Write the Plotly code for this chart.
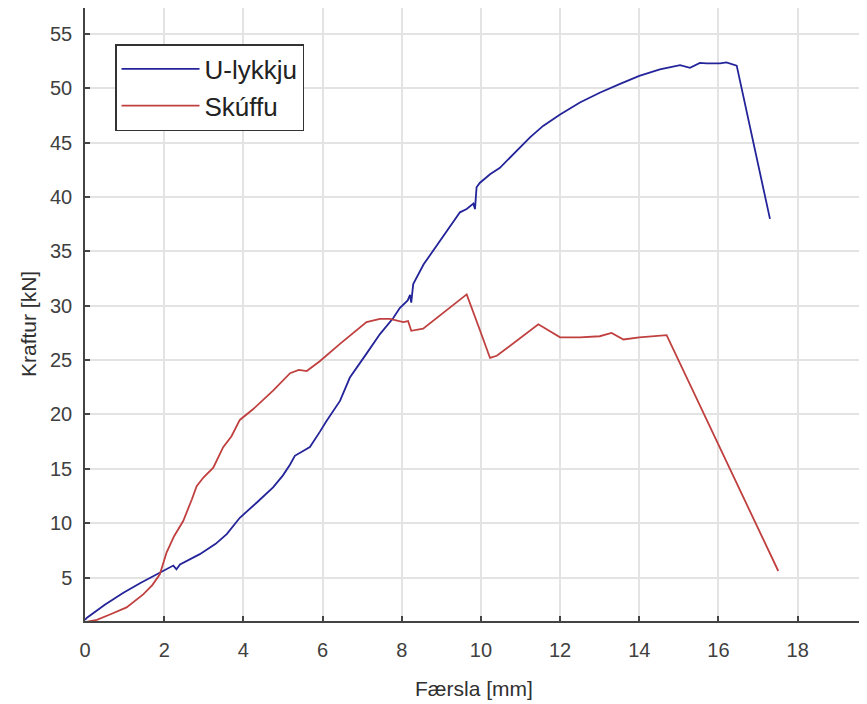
import plotly.graph_objects as go

# U-lykkju (blue)
blue_x = [0, 0.05, 0.5, 0.97, 1.4, 1.89, 2.1, 2.23, 2.31, 2.4, 2.9, 3.3, 3.58, 3.91, 4.34, 4.75, 5.0, 5.18,
          5.30, 5.68, 5.93, 6.10, 6.44, 6.69, 7.11, 7.45, 7.79, 7.95, 8.15, 8.21, 8.24, 8.29, 8.55, 9.13,
          9.47, 9.64, 9.81, 9.85, 9.89, 9.97, 10.23, 10.48, 10.73, 11.24, 11.57, 12.0, 12.5, 13.0, 13.5,
          14.0, 14.52, 15.03, 15.28, 15.53, 15.7, 16.04, 16.2, 16.46, 17.3]
blue_y = [1.1, 1.3, 2.5, 3.6, 4.5, 5.45, 5.9, 6.1, 5.75, 6.2, 7.15, 8.1, 9.0, 10.5, 11.9, 13.3, 14.4, 15.4,
          16.2, 17.0, 18.4, 19.4, 21.25, 23.4, 25.6, 27.4, 28.9, 29.8, 30.5, 31.0, 30.3, 32.0, 33.8, 36.9,
          38.6, 38.9, 39.4, 38.9, 40.9, 41.3, 42.1, 42.7, 43.6, 45.5, 46.55, 47.6, 48.7, 49.6, 50.4,
          51.15, 51.75, 52.15, 51.9, 52.35, 52.3, 52.3, 52.4, 52.1, 38.0]

# Skúffu (red)
red_x = [0, 0.3, 0.63, 1.05, 1.47, 1.7, 1.89, 2.06, 2.25, 2.48, 2.7, 2.82, 2.99, 3.24, 3.49, 3.7, 3.91,
         4.25, 4.75, 5.18, 5.40, 5.60, 5.93, 6.44, 7.11, 7.45, 7.70, 8.04, 8.16, 8.24, 8.54, 8.96, 9.30,
         9.64, 9.95, 10.23, 10.4, 10.9, 11.45, 11.66, 12.0, 12.5, 13.0, 13.3, 13.6, 14.0, 14.69, 17.51]
red_y = [0.9, 1.1, 1.6, 2.25, 3.45, 4.3, 5.3, 7.3, 8.8, 10.2, 12.2, 13.4, 14.2, 15.1, 17.0, 18.0, 19.5,
         20.5, 22.2, 23.8, 24.1, 24.0, 24.9, 26.5, 28.5, 28.8, 28.8, 28.5, 28.6, 27.7, 27.9, 29.1, 30.1,
         31.05, 28.0, 25.2, 25.4, 26.8, 28.3, 27.85, 27.1, 27.1, 27.2, 27.5, 26.9, 27.1, 27.3, 5.6]

x_ticks = [0, 2, 4, 6, 8, 10, 12, 14, 16, 18]
y_ticks = [5, 10, 15, 20, 25, 30, 35, 40, 45, 50, 55]

FONT = "Liberation Sans, Arial, sans-serif"

fig = go.Figure()
fig.add_trace(go.Scatter(x=blue_x, y=blue_y, mode="lines", name="U-lykkju", legendgroup="a",
                         line=dict(color="#24249a", width=1.8)))
fig.add_trace(go.Scatter(x=red_x, y=red_y, mode="lines", name="Skúffu", legendgroup="b",
                         line=dict(color="#c04040", width=1.8)))

axis_common = dict(
    showgrid=True, gridcolor="#e3e3e3", gridwidth=1.5,
    showline=True, linecolor="#444444", linewidth=1.5,
    ticks="inside", ticklen=5, tickcolor="#444444", tickwidth=1.5,
    zeroline=False, automargin=False,
    tickfont=dict(family=FONT, size=20, color="#404040"),
)

# page body has an 8px default margin, so the figure is sized/offset accordingly
W, H = 859, 696
L, R, T, B = 77, 4, 0, 83
PW, PH = W - L - R, H - T - B
fig.update_layout(
    width=W, height=H,
    margin=dict(l=L, r=R, t=T, b=B),
    paper_bgcolor="white", plot_bgcolor="white",
    xaxis=dict(range=[0, 19.65], tickvals=x_ticks, ticktext=[str(v) for v in x_ticks],
               ticklabelstandoff=10, **axis_common),
    yaxis=dict(range=[1, 57.4], tickvals=y_ticks, ticktext=[str(v) for v in y_ticks],
               ticklabelstandoff=7, **axis_common),
    legend=dict(x=(107 - L) / PW, y=(H - B - 36) / PH,
                xanchor="left", yanchor="top",
                bgcolor="white", bordercolor="#333333", borderwidth=1.5,
                font=dict(family=FONT, size=26, color="#222222"),
                itemwidth=78, tracegroupgap=0),
    showlegend=True,
    annotations=[
        dict(text="Færsla [mm]", xref="paper", yref="paper", x=0.5, y=0, yshift=-67,
             xanchor="center", yanchor="middle", showarrow=False,
             font=dict(family=FONT, size=21, color="#303030")),
        dict(text="Kraftur [kN]", xref="paper", yref="paper", x=0, xshift=-(L - 20),
             y=(H - B - 316) / PH,
             xanchor="center", yanchor="middle", textangle=-90, showarrow=False,
             font=dict(family=FONT, size=21, color="#303030")),
    ],
)

fig.write_html("out.html")
